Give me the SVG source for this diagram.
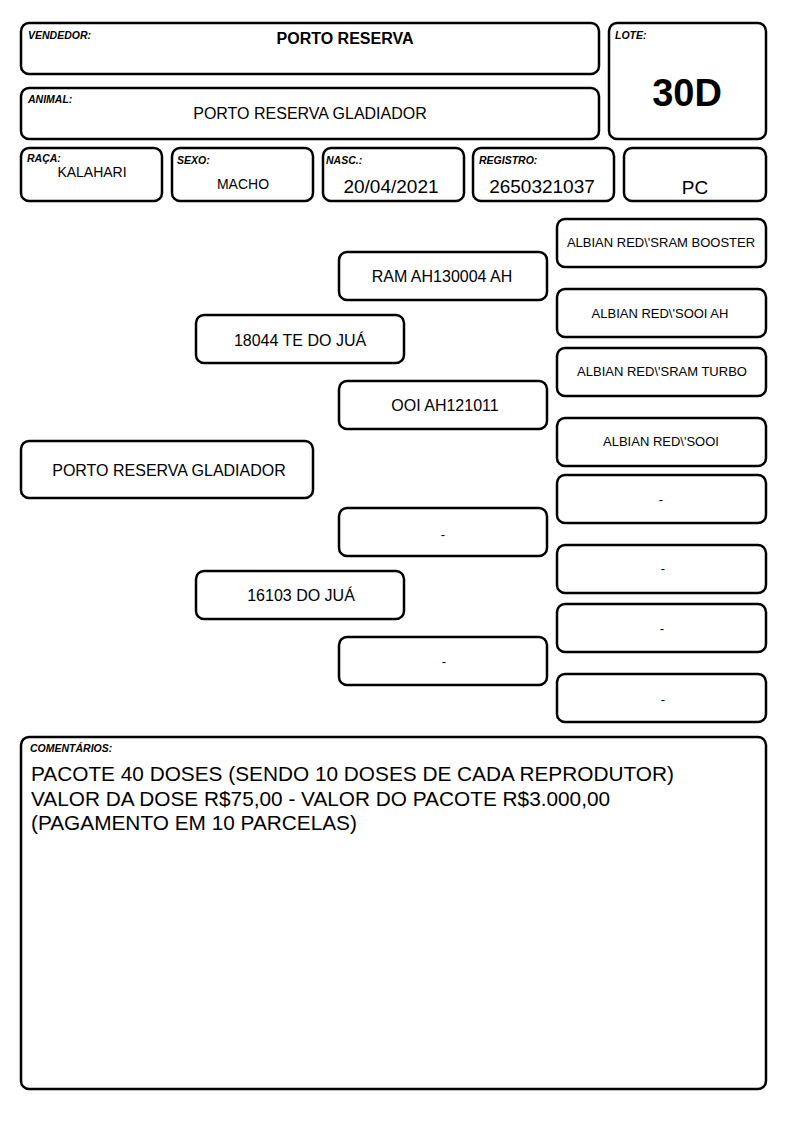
<svg xmlns="http://www.w3.org/2000/svg" width="794" height="1123" viewBox="0 0 794 1123">
<style>
rect.b{fill:#fff;stroke:#000;stroke-width:2.5}
text{font-family:"Liberation Sans",Arial,sans-serif;fill:#000}
.lbl{font-size:10.5px;font-weight:bold;font-style:italic}
.c{text-anchor:middle}
.m{font-size:16px}
.s{font-size:13px}
</style>
<rect width="794" height="1123" fill="#fff"/>
<g id="vendedor"><rect class="b" x="21" y="23" width="578" height="51" rx="8"/><text class="lbl" x="28" y="39" font-size="11">VENDEDOR:</text><text class="c" x="345" y="44" font-size="16" font-weight="bold">PORTO RESERVA</text></g>
<g id="animal"><rect class="b" x="21" y="88" width="578" height="51" rx="8"/><text class="lbl" x="28" y="103">ANIMAL:</text><text class="c m" x="310" y="119">PORTO RESERVA GLADIADOR</text></g>
<g id="lote"><rect class="b" x="609" y="23" width="157" height="116" rx="8"/><text class="lbl" x="615" y="39">LOTE:</text><text class="c" x="687" y="106" font-size="38" font-weight="bold">30D</text></g>
<g id="raca"><rect class="b" x="21" y="148" width="141" height="53" rx="8"/><text class="lbl" x="27" y="162">RAÇA:</text><text class="c" x="92" y="177" font-size="14">KALAHARI</text></g>
<g id="sexo"><rect class="b" x="172" y="148" width="141" height="53" rx="8"/><text class="lbl" x="177" y="164">SEXO:</text><text class="c" x="243" y="189" font-size="14">MACHO</text></g>
<g id="nasc"><rect class="b" x="323" y="148" width="141" height="53" rx="8"/><text class="lbl" x="326" y="164">NASC.:</text><text class="c" x="391" y="193" font-size="19">20/04/2021</text></g>
<g id="registro"><rect class="b" x="473" y="148" width="141" height="53" rx="8"/><text class="lbl" x="479" y="164">REGISTRO:</text><text class="c" x="542" y="193" font-size="19">2650321037</text></g>
<g id="pc"><rect class="b" x="624" y="148" width="142" height="53" rx="8"/><text class="c" x="695" y="194" font-size="19">PC</text></g>

<g id="ped-animal"><rect class="b" x="21" y="441" width="292" height="57" rx="8"/><text class="c m" x="169" y="476">PORTO RESERVA GLADIADOR</text></g>
<g id="pai"><rect class="b" x="196" y="315" width="208" height="48" rx="8"/><text class="c m" x="300" y="346">18044 TE DO JUÁ</text></g>
<g id="mae"><rect class="b" x="196" y="571" width="208" height="48" rx="8"/><text class="c m" x="301" y="601">16103 DO JUÁ</text></g>
<g id="avo1"><rect class="b" x="339" y="252" width="208" height="48" rx="8"/><text class="c m" x="442" y="282">RAM AH130004 AH</text></g>
<g id="avo2"><rect class="b" x="339" y="381" width="208" height="48" rx="8"/><text class="c m" x="445" y="411">OOI AH121011</text></g>
<g id="avo3"><rect class="b" x="339" y="508" width="208" height="48" rx="8"/><text class="c s" x="443" y="539">-</text></g>
<g id="avo4"><rect class="b" x="339" y="637" width="208" height="48" rx="8"/><text class="c s" x="444" y="666">-</text></g>
<g id="bis1"><rect class="b" x="557" y="219" width="209" height="48" rx="8"/><text class="c s" x="661" y="247">ALBIAN RED\'SRAM BOOSTER</text></g>
<g id="bis2"><rect class="b" x="557" y="289" width="209" height="48" rx="8"/><text class="c s" x="660" y="318">ALBIAN RED\'SOOI AH</text></g>
<g id="bis3"><rect class="b" x="557" y="348" width="209" height="48" rx="8"/><text class="c s" x="662" y="376">ALBIAN RED\'SRAM TURBO</text></g>
<g id="bis4"><rect class="b" x="557" y="418" width="209" height="48" rx="8"/><text class="c s" x="661" y="446">ALBIAN RED\'SOOI</text></g>
<g id="bis5"><rect class="b" x="557" y="475" width="209" height="48" rx="8"/><text class="c s" x="661" y="504">-</text></g>
<g id="bis6"><rect class="b" x="557" y="545" width="209" height="48" rx="8"/><text class="c s" x="663" y="573">-</text></g>
<g id="bis7"><rect class="b" x="557" y="604" width="209" height="48" rx="8"/><text class="c s" x="662" y="633">-</text></g>
<g id="bis8"><rect class="b" x="557" y="674" width="209" height="48" rx="8"/><text class="c s" x="663" y="704">-</text></g>
<g id="connectors"></g>

<g id="comentarios"><rect class="b" x="21" y="737" width="745" height="352" rx="8"/><text class="lbl" x="30" y="752" font-size="11">COMENTÁRIOS:</text>
<text x="31" y="781" font-size="20.8">PACOTE 40 DOSES (SENDO 10 DOSES DE CADA REPRODUTOR)</text>
<text x="31" y="806" font-size="20.8">VALOR DA DOSE R$75,00 - VALOR DO PACOTE R$3.000,00</text>
<text x="31" y="830" font-size="20.8">(PAGAMENTO EM 10 PARCELAS)</text></g>
</svg>
